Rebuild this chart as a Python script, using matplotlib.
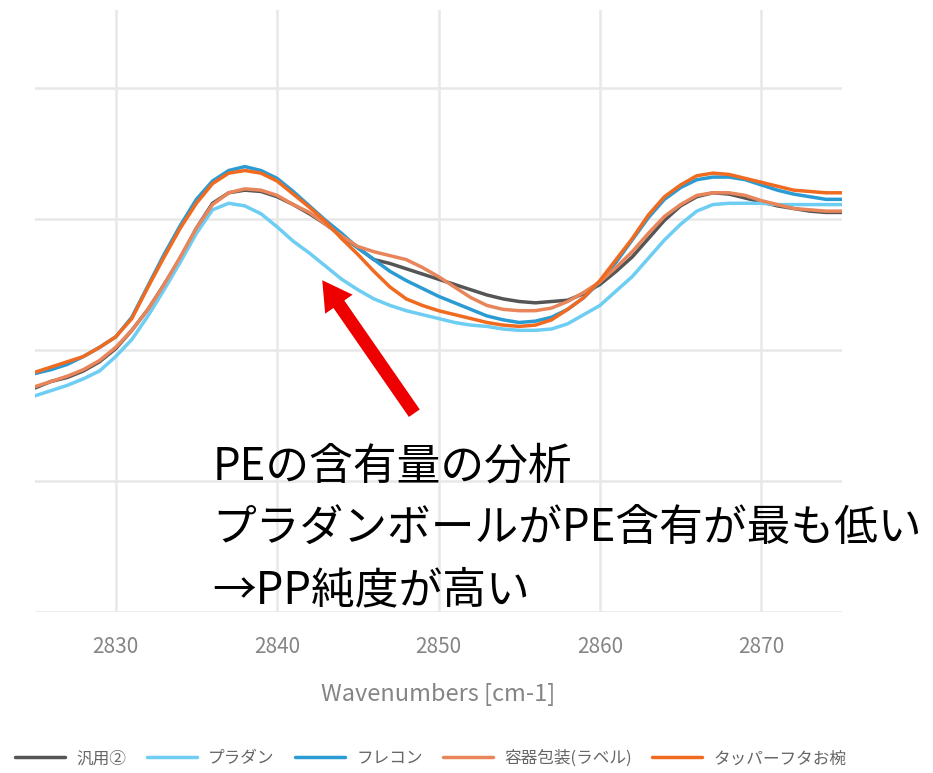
import matplotlib
matplotlib.use('Agg')
import matplotlib.pyplot as plt
import numpy as np

plt.rcParams['font.family'] = ['Noto Sans CJK JP', 'DejaVu Sans']

# wavenumbers [cm-1], one point per cm-1
wavenumbers = list(range(2825, 2876))

# spectra (arbitrary absorbance units)
hanyou2 = [1.71, 1.76, 1.79, 1.84, 1.91, 2.01, 2.15, 2.31, 2.50, 2.70,
           2.93, 3.12, 3.20, 3.22, 3.21, 3.17, 3.11, 3.04, 2.96, 2.87,
           2.78, 2.69, 2.66, 2.62, 2.58, 2.54, 2.50, 2.46, 2.42, 2.39,
           2.37, 2.36, 2.37, 2.38, 2.43, 2.50, 2.60, 2.71, 2.85, 2.99,
           3.10, 3.17, 3.20, 3.19, 3.16, 3.13, 3.10, 3.08, 3.06, 3.05, 3.05]
puradan = [1.65, 1.69, 1.73, 1.78, 1.84, 1.95, 2.08, 2.26, 2.46, 2.67,
           2.89, 3.07, 3.12, 3.10, 3.04, 2.94, 2.83, 2.74, 2.64, 2.54,
           2.46, 2.39, 2.34, 2.30, 2.27, 2.24, 2.21, 2.19, 2.18, 2.16,
           2.15, 2.15, 2.16, 2.20, 2.27, 2.34, 2.45, 2.56, 2.70, 2.84,
           2.96, 3.06, 3.11, 3.12, 3.12, 3.12, 3.11, 3.11, 3.11, 3.11, 3.11]
furekon = [1.82, 1.85, 1.89, 1.95, 2.02, 2.10, 2.25, 2.49, 2.73, 2.95,
           3.15, 3.29, 3.37, 3.40, 3.37, 3.31, 3.21, 3.10, 2.99, 2.89,
           2.78, 2.69, 2.60, 2.53, 2.47, 2.41, 2.36, 2.31, 2.26, 2.23,
           2.21, 2.22, 2.25, 2.31, 2.40, 2.52, 2.67, 2.84, 3.01, 3.15,
           3.24, 3.30, 3.32, 3.32, 3.30, 3.26, 3.22, 3.19, 3.17, 3.15, 3.15]
youki = [1.72, 1.76, 1.80, 1.85, 1.92, 2.02, 2.15, 2.31, 2.50, 2.71,
         2.93, 3.11, 3.20, 3.23, 3.22, 3.18, 3.11, 3.05, 2.96, 2.87,
         2.79, 2.75, 2.72, 2.69, 2.63, 2.56, 2.48, 2.40, 2.34, 2.31,
         2.30, 2.30, 2.32, 2.37, 2.44, 2.52, 2.63, 2.75, 2.89, 3.02,
         3.11, 3.18, 3.20, 3.20, 3.18, 3.14, 3.11, 3.08, 3.07, 3.06, 3.06]
tapper = [1.83, 1.87, 1.91, 1.95, 2.02, 2.10, 2.24, 2.48, 2.71, 2.93,
          3.12, 3.27, 3.35, 3.37, 3.35, 3.29, 3.19, 3.09, 2.98, 2.85,
          2.73, 2.60, 2.48, 2.39, 2.34, 2.30, 2.27, 2.24, 2.21, 2.19,
          2.18, 2.19, 2.23, 2.31, 2.40, 2.53, 2.69, 2.85, 3.03, 3.17,
          3.26, 3.33, 3.35, 3.34, 3.31, 3.28, 3.25, 3.22, 3.21, 3.20, 3.20]

labels = ['汎用②', 'プラダン', 'フレコン', '容器包装(ラベル)', 'タッパーフタお椀']
colors = ['#555555', '#6dcdf2', '#2b9bd3', '#e8855a', '#f06a20']
series = [hanyou2, puradan, furekon, youki, tapper]

fig = plt.figure(figsize=(9.33, 7.73), dpi=100)
ax = fig.add_axes([0.0375, 0.2083, 0.865, 0.7787])

for vals, lab, col in zip(series, labels, colors):
    ax.plot(wavenumbers, vals, color=col, lw=2.5, label=lab,
            solid_capstyle='round')

ax.set_xlim(2825, 2875)
ax.set_ylim(0, 4.595)
ax.set_xticks([2830, 2840, 2850, 2860, 2870])
ax.set_yticks([0, 1, 2, 3, 4])
ax.grid(True, color='#e8e8e8', lw=1.8)
ax.set_axisbelow(True)
for s in ax.spines.values():
    s.set_visible(False)
ax.tick_params(axis='both', length=0)
ax.tick_params(axis='x', labelsize=15, labelcolor='#858585', pad=17)
ax.set_yticklabels([])
ax.set_xlabel('Wavenumbers [cm-1]', fontsize=17, color='#858585', labelpad=18)

# annotation
ax.annotate('', xy=(2842.7, 2.55), xytext=(2848.6, 1.50),
            arrowprops=dict(arrowstyle='simple,head_width=2.4,head_length=2.1,tail_width=0.95',
                            color='#ee0000', lw=0))
ax.text(2836.0, 0.64, 'PEの含有量の分析\nプラダンボールがPE含有が最も低い\n→PP純度が高い',
        fontsize=31.5, color='black', va='center', ha='left', linespacing=1.44)

fig.legend(loc='lower left', bbox_to_anchor=(0.0, -0.012), ncol=5, frameon=False,
           fontsize=12, labelcolor='#666666', handlelength=3.0,
           columnspacing=1.2, handletextpad=0.7)

fig.savefig('out.png', dpi=100)
